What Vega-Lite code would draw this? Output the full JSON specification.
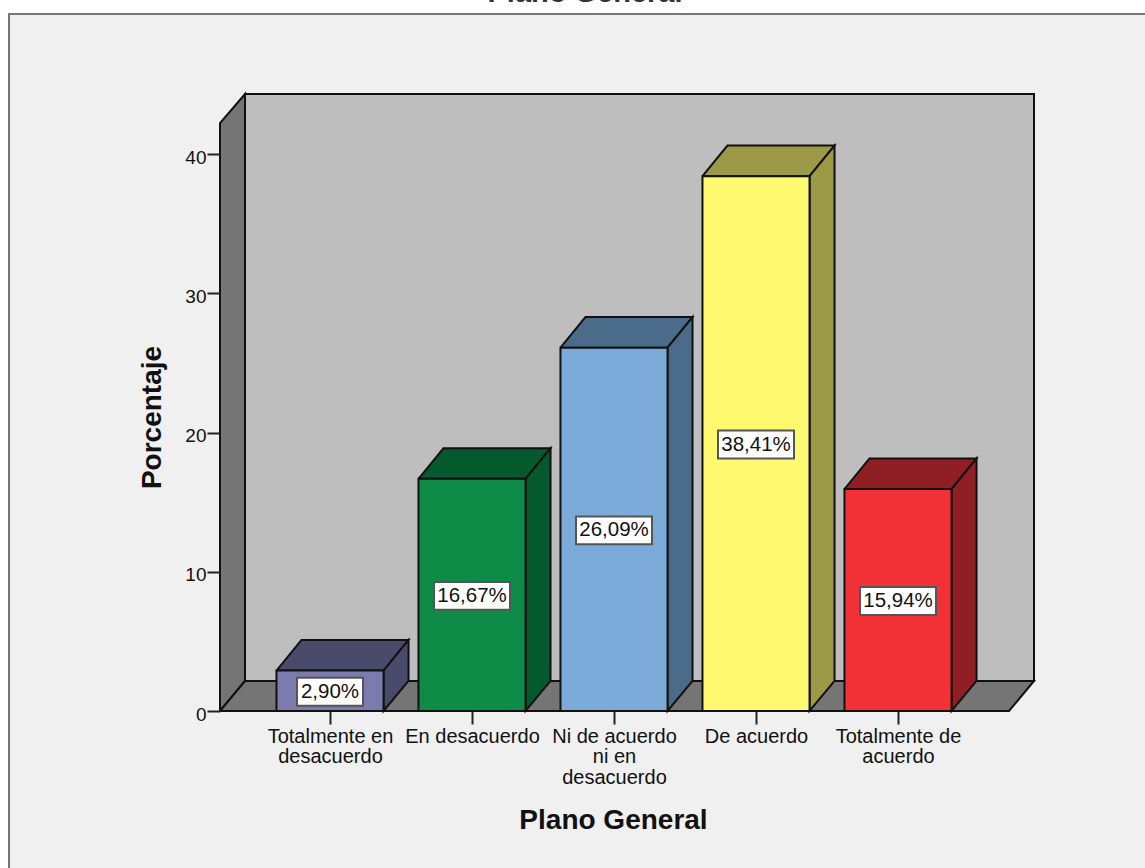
{
"$schema":"https://vega.github.io/schema/vega-lite/v6.json",
"width":814,"height":617,"autosize":"none",
"padding":{"left":220,"top":94,"right":111,"bottom":157},
"background":"#ffffff",
"view":{"stroke":null},
"config":{"font":"Liberation Sans","axis":{"grid":false}},
"datasets":{
"bars":[
{"idx":1,"categoria":"Totalmente en desacuerdo","value":2.90},
{"idx":2,"categoria":"En desacuerdo","value":16.67},
{"idx":3,"categoria":"Ni de acuerdo ni en desacuerdo","value":26.09},
{"idx":4,"categoria":"De acuerdo","value":38.41},
{"idx":5,"categoria":"Totalmente de acuerdo","value":15.94}
],
"walls":[
{"wall":"left","corner":0,"px":0.22535,"py":0},
{"wall":"left","corner":1,"px":0.22535,"py":42.226},
{"wall":"left","corner":2,"px":0.40141,"py":44.309},
{"wall":"left","corner":3,"px":0.40141,"py":2.154},
{"wall":"left","corner":4,"px":0.22535,"py":0},
{"wall":"floor","corner":0,"px":0.22535,"py":0},
{"wall":"floor","corner":1,"px":0.40141,"py":2.154},
{"wall":"floor","corner":2,"px":5.95775,"py":2.154},
{"wall":"floor","corner":3,"px":5.7817,"py":0},
{"wall":"floor","corner":4,"px":0.22535,"py":0}
]
},
"encoding":{
"x":{"field":"px","type":"quantitative","scale":{"domain":[0.22535,5.95775],"nice":false,"zero":false},
   "axis":{"values":[1,2,3,4,5],"title":"Plano General","zindex":1,"domain":false,"grid":false,"tickSize":13,"tickWidth":2,"tickColor":"#222222","labelFontSize":20,"labelColor":"#111111","labelPadding":2,"labelLineHeight":20.5,"labelOverlap":false,"labelBound":false,"labelFlush":false,"labelAngle":0,"labelBaseline":"top",
   "labelExpr":"[['Totalmente en','desacuerdo'],'En desacuerdo',['Ni de acuerdo','ni en','desacuerdo'],'De acuerdo',['Totalmente de','acuerdo']][datum.value-1]",
   "titleFontSize":28,"titleFontWeight":"bold","titleColor":"#111111","titleX":393,"titleY":109,"titleBaseline":"middle","titleAlign":"center"}},
"y":{"field":"py","type":"quantitative","scale":{"domain":[0,44.309],"nice":false,"zero":false},
   "axis":{"values":[0,10,20,30,40],"title":"Porcentaje","zindex":1,"domain":false,"grid":false,"tickSize":13,"tickWidth":2,"tickColor":"#222222","labelFontSize":19,"labelColor":"#111111","labelPadding":1,"labelOffset":3,"labelOverlap":false,"labelBound":false,"labelFlush":false,
   "titleFontSize":28,"titleFontWeight":"bold","titleColor":"#111111","titleX":-68,"titleY":323,"titleBaseline":"middle","titleAlign":"center","titleAngle":-90}}
},
"layer":[
{"data":{"values":[{"px":-1.2606,"px2":6.9,"py":50.05,"py2":-13}]},
 "mark":{"type":"rect","fill":"#f0f0f0","stroke":"#777777","strokeWidth":2},
 "encoding":{"x2":{"field":"px2"},"y2":{"field":"py2"}}},
{"data":{"values":[{"px":2.796,"py":50.91,"titulo":"Plano General"}]},
 "mark":{"type":"text","fontSize":29,"fontWeight":"bold","font":"Liberation Sans","color":"#333333","align":"center","baseline":"alphabetic"},
 "encoding":{"text":{"field":"titulo"}}},
{"data":{"values":[{"px":0.40141,"px2":5.95775,"py":44.309,"py2":2.154}]},
 "mark":{"type":"rect","fill":"#bebebe","stroke":"#111111","strokeWidth":2},
 "encoding":{"x2":{"field":"px2"},"y2":{"field":"py2"}}},
{"data":{"name":"walls"},
 "mark":{"type":"line","fill":"#757575","stroke":"#111111","strokeWidth":2,"strokeJoin":"miter"},
 "encoding":{"detail":{"field":"wall"},"order":{"field":"corner"}}},
{"data":{"name":"bars"},
 "transform":[
  {"calculate":"[0,1,2,3,4]","as":"corner"},{"flatten":["corner"]},
  {"calculate":"datum.idx+[-0.377,0.377,0.553,-0.201,-0.377][datum.corner]","as":"px"},
  {"calculate":"datum.value+[0,0,2.2,2.2,0][datum.corner]","as":"py"}
 ],
 "mark":{"type":"line","stroke":"#111111","strokeWidth":2,"strokeJoin":"miter"},
 "encoding":{"order":{"field":"corner"},"fill":{"field":"categoria","type":"nominal","legend":null,
  "scale":{"domain":["Totalmente en desacuerdo","En desacuerdo","Ni de acuerdo ni en desacuerdo","De acuerdo","Totalmente de acuerdo"],"range":["#4a4a6a","#05592d","#4a6b8a","#9c9a47","#8f1f24"]}}}},
{"data":{"name":"bars"},
 "transform":[
  {"calculate":"[0,1,2,3,4]","as":"corner"},{"flatten":["corner"]},
  {"calculate":"datum.idx+[0.377,0.553,0.553,0.377,0.377][datum.corner]","as":"px"},
  {"calculate":"[datum.value,datum.value+2.2,2.154,0,datum.value][datum.corner]","as":"py"}
 ],
 "mark":{"type":"line","stroke":"#111111","strokeWidth":2,"strokeJoin":"miter"},
 "encoding":{"order":{"field":"corner"},"fill":{"field":"categoria","type":"nominal","legend":null,
  "scale":{"domain":["Totalmente en desacuerdo","En desacuerdo","Ni de acuerdo ni en desacuerdo","De acuerdo","Totalmente de acuerdo"],"range":["#4a4a6a","#05592d","#4a6b8a","#9c9a47","#8f1f24"]}}}},
{"data":{"name":"bars"},
 "transform":[
  {"calculate":"datum.idx-0.377","as":"px"},{"calculate":"datum.idx+0.377","as":"px2"},
  {"calculate":"datum.value","as":"py"},{"calculate":"0","as":"py2"}
 ],
 "mark":{"type":"rect","stroke":"#111111","strokeWidth":2},
 "encoding":{"x2":{"field":"px2"},"y2":{"field":"py2"},"fill":{"field":"categoria","type":"nominal","legend":null,
  "scale":{"domain":["Totalmente en desacuerdo","En desacuerdo","Ni de acuerdo ni en desacuerdo","De acuerdo","Totalmente de acuerdo"],"range":["#7b7bae","#0e8c47","#7baad8","#fef96f","#f33238"]}}}},
{"data":{"name":"bars"},
 "transform":[
  {"calculate":"datum.value<10?0.2324:0.2676","as":"hb"},
  {"calculate":"datum.idx-datum.hb","as":"px"},{"calculate":"datum.idx+datum.hb","as":"px2"},
  {"calculate":"datum.value/2+0.93","as":"py"},{"calculate":"datum.value/2-1.07","as":"py2"}
 ],
 "mark":{"type":"rect","fill":"#ffffff","stroke":"#555555","strokeWidth":2},
 "encoding":{"x2":{"field":"px2"},"y2":{"field":"py2"}}},
{"data":{"name":"bars"},
 "transform":[
  {"calculate":"datum.idx","as":"px"},{"calculate":"datum.value/2-0.07","as":"py"},
  {"calculate":"replace(format(datum.value,'.2f'),'.',',')+'%'","as":"etiqueta"}
 ],
 "mark":{"type":"text","fontSize":20.5,"font":"Liberation Sans","color":"#111111","baseline":"middle","align":"center"},
 "encoding":{"text":{"field":"etiqueta"}}}
],
"resolve":{"scale":{"fill":"independent"}}
}
